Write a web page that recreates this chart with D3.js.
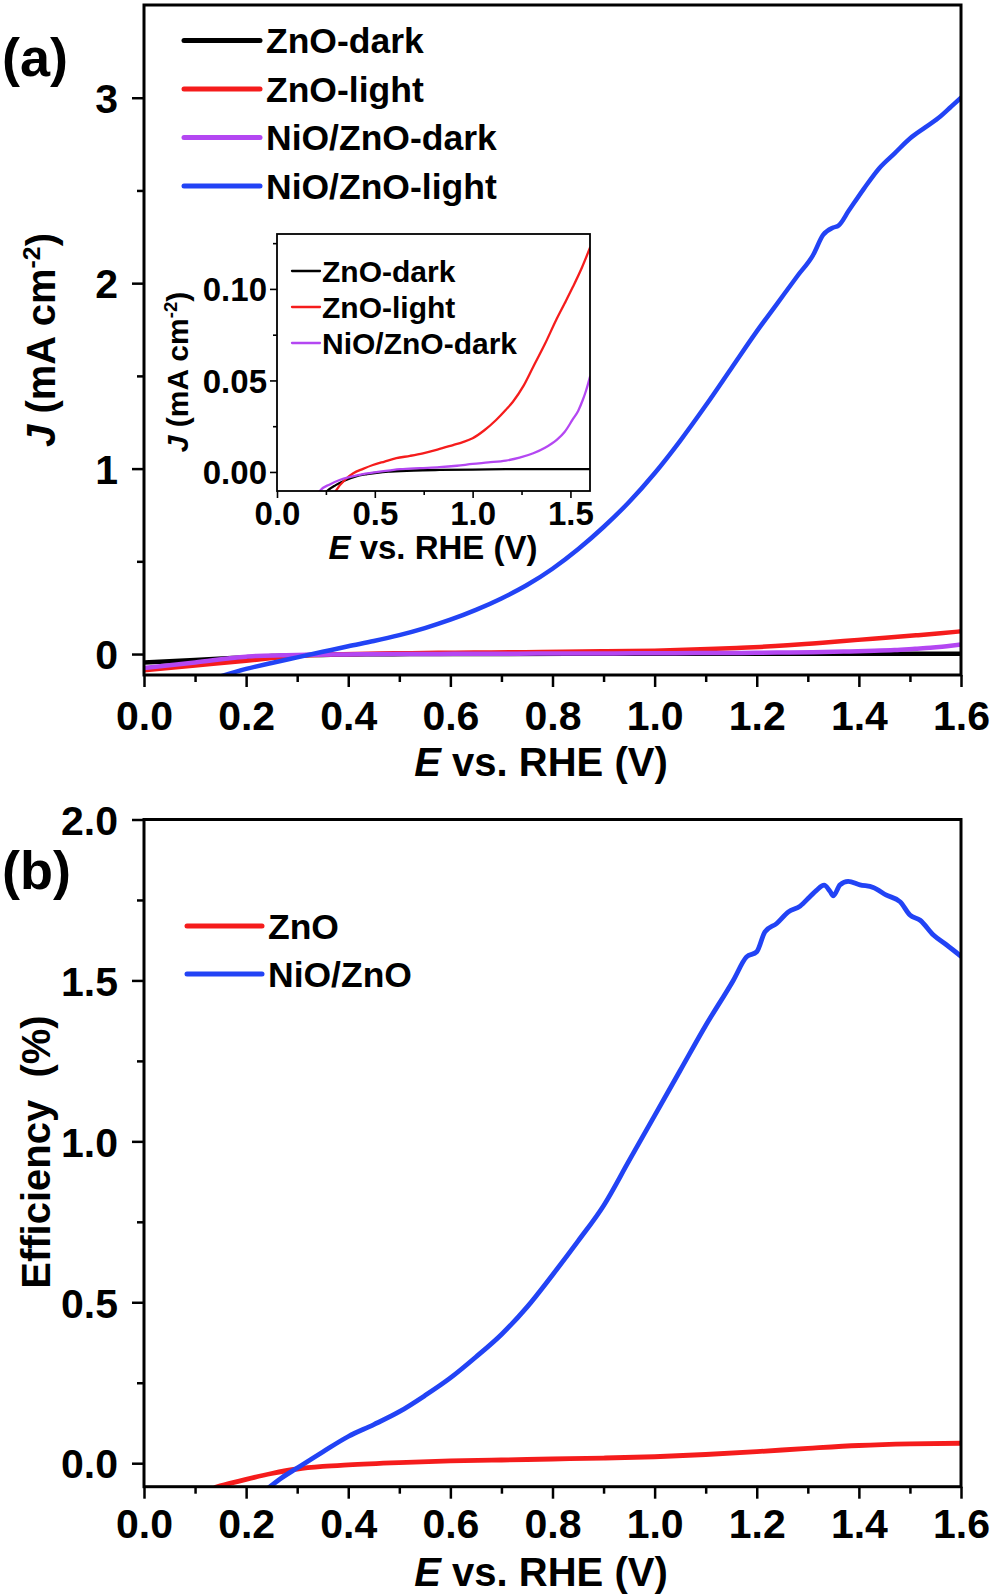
<!DOCTYPE html>
<html><head><meta charset="utf-8">
<script src="https://cdn.jsdelivr.net/npm/d3@7"></script>
<style>
html,body{margin:0;padding:0;background:#fff;}
text{font-family:"Liberation Sans",Arial,sans-serif;font-weight:bold;fill:#000;}
</style></head>
<body>
<svg id="chart" width="992" height="1595"></svg>
<script>
// ---------- DATA ----------
const xTicks = [0.0, 0.2, 0.4, 0.6, 0.8, 1.0, 1.2, 1.4, 1.6];
const jTicks = [0, 1, 2, 3];
const effTicks = [0.0, 0.5, 1.0, 1.5, 2.0];
const insetXTicks = [0.0, 0.5, 1.0, 1.5];
const insetYTicks = [0.00, 0.05, 0.10];

const seriesNamesA = ["ZnO-dark", "ZnO-light", "NiO/ZnO-dark", "NiO/ZnO-light"];
const seriesNamesB = ["ZnO", "NiO/ZnO"];

// [E (V vs RHE), J (mA cm-2)]
const znoDark = [[0,-0.045],[0.1,-0.032],[0.2,-0.018],[0.25,-0.011],[0.3,-0.0072],[0.35,-0.0045],[0.4,-0.0025],[0.46,-0.0012],[0.52,-0.0003],[0.58,0.0002],[0.7,0.0008],[0.83,0.0011],[1.0,0.0013],[1.17,0.0015],[1.4,0.0016],[1.6,0.0016]];
const znoLight = [[0,-0.088],[0.1,-0.062],[0.2,-0.036],[0.25,-0.022],[0.3,-0.0105],[0.35,-0.004],[0.39,-0.0007],[0.44,0.0017],[0.49,0.0038],[0.55,0.0057],[0.61,0.0075],[0.68,0.0088],[0.746,0.0102],[0.82,0.0122],[0.9,0.0147],[0.95,0.0163],[1.0,0.0184],[1.06,0.0228],[1.12,0.0284],[1.17,0.034],[1.206,0.0384],[1.26,0.047],[1.31,0.0575],[1.37,0.07],[1.427,0.083],[1.47,0.092],[1.512,0.101],[1.56,0.112],[1.6,0.1225]];
const nioDark = [[0,-0.075],[0.1,-0.045],[0.2,-0.014],[0.22,-0.0102],[0.27,-0.0068],[0.32,-0.0044],[0.37,-0.0028],[0.42,-0.0016],[0.5,-0.0002],[0.58,0.0009],[0.63,0.0015],[0.73,0.0021],[0.83,0.0026],[0.92,0.0034],[1.0,0.0044],[1.08,0.0052],[1.17,0.0062],[1.24,0.0078],[1.31,0.0102],[1.37,0.0132],[1.43,0.0175],[1.47,0.0218],[1.51,0.0284],[1.54,0.0335],[1.563,0.0393],[1.58,0.0445],[1.6,0.052]];
const nioLight = [[0.15,-0.12],[0.2,-0.08],[0.25,-0.048],[0.3,-0.018],[0.35,0.012],[0.4,0.042],[0.45,0.07],[0.5,0.102],[0.55,0.14],[0.6,0.185],[0.65,0.238],[0.7,0.3],[0.75,0.372],[0.8,0.46],[0.85,0.565],[0.9,0.685],[0.95,0.82],[1.0,0.975],[1.05,1.15],[1.1,1.34],[1.15,1.54],[1.2,1.74],[1.24,1.89],[1.28,2.04],[1.31,2.15],[1.33,2.26],[1.35,2.3],[1.36,2.31],[1.38,2.39],[1.41,2.51],[1.44,2.62],[1.47,2.7],[1.5,2.78],[1.53,2.84],[1.56,2.9],[1.58,2.95],[1.6,3.0]];

// [E, efficiency (%)]
const effZnO = [[0.14,-0.075],[0.17,-0.062],[0.2,-0.05],[0.25,-0.032],[0.3,-0.018],[0.35,-0.01],[0.4,-0.005],[0.5,0.002],[0.6,0.007],[0.7,0.01],[0.8,0.013],[0.9,0.016],[1.0,0.02],[1.1,0.027],[1.2,0.036],[1.3,0.046],[1.4,0.055],[1.5,0.06],[1.6,0.062]];
const effNiO = [[0.245,-0.075],[0.27,-0.045],[0.3,-0.015],[0.35,0.035],[0.4,0.083],[0.45,0.12],[0.5,0.16],[0.55,0.21],[0.6,0.265],[0.65,0.33],[0.7,0.4],[0.75,0.485],[0.8,0.585],[0.85,0.69],[0.9,0.8],[0.95,0.94],[1.0,1.08],[1.05,1.22],[1.1,1.36],[1.154,1.5],[1.18,1.573],[1.2,1.589],[1.216,1.651],[1.239,1.677],[1.262,1.713],[1.285,1.731],[1.304,1.76],[1.317,1.78],[1.332,1.796],[1.343,1.778],[1.35,1.763],[1.363,1.797],[1.379,1.808],[1.402,1.797],[1.428,1.789],[1.454,1.765],[1.481,1.744],[1.5,1.703],[1.52,1.687],[1.546,1.641],[1.572,1.61],[1.6,1.575]];

const colors = {black:"#000000", red:"#f51c1c", purple:"#b447f2", blue:"#2243f5"};

// ---------- DRAW ----------
const svg = d3.select("#chart");
const fmt1 = d3.format(".1f"), fmt2 = d3.format(".2f");

function panel(o){
  const x = d3.scaleLinear().domain(o.xDom).range(o.xRange);
  const y = d3.scaleLinear().domain(o.yDom).range(o.yRange);
  const g = svg.append("g");
  const cid = "clip" + o.id;
  svg.append("clipPath").attr("id", cid).append("rect")
    .attr("x", o.xRange[0]).attr("y", o.yRange[1])
    .attr("width", o.xRange[1]-o.xRange[0]).attr("height", o.yRange[0]-o.yRange[1]);
  if (o.bg) g.append("rect").attr("x", o.xRange[0]).attr("y", o.yRange[1])
    .attr("width", o.xRange[1]-o.xRange[0]).attr("height", o.yRange[0]-o.yRange[1]).attr("fill","#fff");
  const line = d3.line().x(d=>x(d[0])).y(d=>y(d[1])).curve(d3.curveMonotoneX);
  const lg = g.append("g").attr("clip-path", `url(#${cid})`);
  o.series.forEach(s=>{
    lg.append("path").datum(s.data).attr("d", line).attr("fill","none")
      .attr("stroke", s.color).attr("stroke-width", o.lw).attr("stroke-linejoin","round").attr("stroke-linecap","round");
  });
  const xa = g.append("g").attr("transform", `translate(0,${o.yRange[0]})`)
    .call(d3.axisBottom(x).tickValues(o.xMinor).tickSize(o.minorLen).tickFormat(""));
  const xb = g.append("g").attr("transform", `translate(0,${o.yRange[0]})`)
    .call(d3.axisBottom(x).tickValues(o.xTicks).tickSize(o.majorLen).tickPadding(o.xPad).tickFormat(o.xFmt));
  const ya = g.append("g").attr("transform", `translate(${o.xRange[0]},0)`)
    .call(d3.axisLeft(y).tickValues(o.yMinor).tickSize(o.minorLen).tickFormat(""));
  const yb = g.append("g").attr("transform", `translate(${o.xRange[0]},0)`)
    .call(d3.axisLeft(y).tickValues(o.yTicks).tickSize(o.majorLen).tickPadding(o.yPad).tickFormat(o.yFmt));
  [xa,xb,ya,yb].forEach(a=>{
    a.select(".domain").remove();
    a.selectAll("line").attr("stroke","#000").attr("stroke-width", o.tw);
    a.selectAll("text").style("font-size", o.tickFont+"px").style("font-family",'"Liberation Sans",Arial,sans-serif').style("font-weight","bold").attr("fill","#000");
  });
  xb.selectAll("text").attr("dy", null).attr("y", o.xLabelBase - o.yRange[0]);
  yb.selectAll("text").attr("dy","0.36em");
  g.append("rect").attr("x", o.xRange[0]).attr("y", o.yRange[1])
    .attr("width", o.xRange[1]-o.xRange[0]).attr("height", o.yRange[0]-o.yRange[1])
    .attr("fill","none").attr("stroke","#000").attr("stroke-width", o.fw);
  return {x,y,g};
}

function xTitle(g, cx, base, size){
  const t = g.append("text").attr("x", cx).attr("y", base).attr("text-anchor","middle").style("font-size", size+"px");
  t.append("tspan").text("E").style("font-style","italic");
  t.append("tspan").text(" vs. RHE (V)");
}
function jTitle(g, cx, cy, size){
  const t = g.append("text").attr("transform", `translate(${cx},${cy}) rotate(-90)`).attr("text-anchor","middle").style("font-size", size+"px");
  t.append("tspan").text("J").style("font-style","italic");
  t.append("tspan").text(" (mA cm");
  t.append("tspan").text("-2").style("font-size", (size*0.62)+"px").attr("dy", -size*0.38);
  t.append("tspan").text(")").attr("dy", size*0.38);
}
function legend(g, items, x0, x1, y0, dy, tx, size, lw){
  items.forEach((it,i)=>{
    const yy = y0 + i*dy;
    g.append("line").attr("x1",x0).attr("x2",x1).attr("y1",yy).attr("y2",yy)
      .attr("stroke", it.color).attr("stroke-width", lw).attr("stroke-linecap","round");
    g.append("text").attr("x", tx).attr("y", yy).attr("dy","0.36em").style("font-size", size+"px").text(it.name);
  });
}

// Panel (a)
const seriesA = [
  {name:seriesNamesA[0], data:znoDark, color:colors.black},
  {name:seriesNamesA[1], data:znoLight, color:colors.red},
  {name:seriesNamesA[2], data:nioDark, color:colors.purple},
  {name:seriesNamesA[3], data:nioLight, color:colors.blue}
];
panel({id:"a", xDom:[0,1.6], xRange:[144,961], yDom:[-0.113,3.5], yRange:[675,5],
  series:seriesA, lw:4.5, xTicks:xTicks, xMinor:d3.range(0.1,1.6,0.2), yTicks:jTicks, yMinor:[0.5,1.5,2.5],
  majorLen:12, minorLen:7, tw:2.5, fw:3, xPad:8, yPad:14, tickFont:41, xLabelBase:730,
  xFmt:fmt1, yFmt:d3.format("d")});
xTitle(svg, 541, 776, 40);
jTitle(svg, 55, 340, 40);
svg.append("text").attr("x", 2).attr("y", 76).style("font-size","54px").text("(a)");
legend(svg, seriesA, 184, 260, 40.5, 48.5, 266, 35.5, 5);

// Inset
const seriesI = seriesA.slice(0,3);
panel({id:"i", xDom:[0,1.6], xRange:[277,590], yDom:[-0.0104,0.13], yRange:[491,234], bg:true,
  series:seriesI, lw:2.3, xTicks:insetXTicks, xMinor:[0.25,0.75,1.25], yTicks:insetYTicks, yMinor:[0.025,0.075,0.125],
  majorLen:7, minorLen:4, tw:1.6, fw:1.8, xPad:6, yPad:3, tickFont:33, xLabelBase:525,
  xFmt:fmt1, yFmt:fmt2});
xTitle(svg, 433, 559, 33);
jTitle(svg, 188, 372, 30);
legend(svg, seriesI, 292, 320, 271, 36, 322, 30, 2.3);

// Panel (b)
const seriesB = [
  {name:seriesNamesB[0], data:effZnO, color:colors.red},
  {name:seriesNamesB[1], data:effNiO, color:colors.blue}
];
panel({id:"b", xDom:[0,1.6], xRange:[144,961], yDom:[-0.073,2.0], yRange:[1486.7,819.5],
  series:seriesB, lw:4.8, xTicks:xTicks, xMinor:d3.range(0.1,1.6,0.2), yTicks:effTicks, yMinor:[0.25,0.75,1.25,1.75],
  majorLen:12, minorLen:7, tw:2.5, fw:3, xPad:8, yPad:14, tickFont:41, xLabelBase:1538,
  xFmt:fmt1, yFmt:fmt1});
xTitle(svg, 541, 1586, 40);
svg.append("text").attr("transform","translate(50,1152) rotate(-90)").attr("text-anchor","middle").style("font-size","40px").text("Efficiency\u00a0\u00a0(%)");
svg.append("text").attr("x", 2).attr("y", 889).style("font-size","54px").text("(b)");
legend(svg, seriesB, 187, 262, 926, 48, 268, 35.5, 5);
</script>
</body></html>
